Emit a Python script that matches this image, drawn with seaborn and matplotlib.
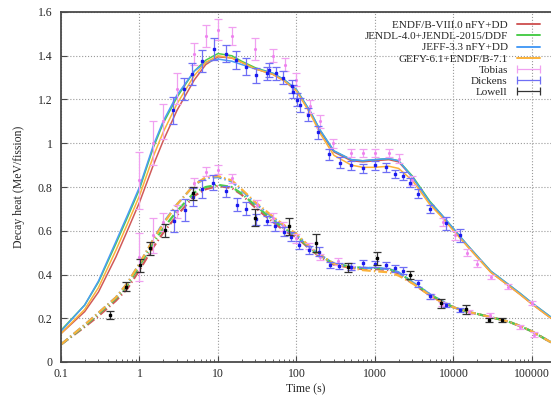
import numpy as np
import pandas as pd
import seaborn as sns
import matplotlib.pyplot as plt
from matplotlib.lines import Line2D
from matplotlib.ticker import FuncFormatter, LogLocator, NullFormatter

# time grid of the calculated curves (s)
t_calc = [0.1, 0.2, 0.3, 0.5, 0.7, 1, 1.5, 2, 3, 5, 7, 10, 15, 20, 30, 50, 70, 100, 150, 200, 300,
          500, 700, 1000, 1500, 2000, 3000, 5000, 7000, 10000, 15000, 20000, 30000, 50000, 70000,
          100000, 175000]

# upper set (solid)
up_endf = [0.13, 0.23, 0.32, 0.48, 0.60, 0.73, 0.90, 1.01, 1.15, 1.29, 1.36, 1.395, 1.39, 1.37, 1.34,
           1.315, 1.285, 1.24, 1.14, 1.055, 0.96, 0.92, 0.915, 0.92, 0.925, 0.915, 0.845, 0.73, 0.67,
           0.605, 0.53, 0.48, 0.41, 0.35, 0.31, 0.265, 0.20]
up_jendl = [0.145, 0.26, 0.365, 0.54, 0.66, 0.79, 0.98, 1.09, 1.21, 1.33, 1.38, 1.41, 1.40, 1.375, 1.345,
            1.32, 1.29, 1.245, 1.145, 1.06, 0.965, 0.925, 0.92, 0.925, 0.93, 0.92, 0.85, 0.735, 0.675,
            0.61, 0.535, 0.485, 0.415, 0.355, 0.315, 0.27, 0.205]
up_jeff = [0.14, 0.26, 0.37, 0.55, 0.67, 0.80, 0.99, 1.10, 1.22, 1.33, 1.37, 1.385, 1.375, 1.36, 1.34,
           1.32, 1.29, 1.245, 1.145, 1.06, 0.965, 0.925, 0.92, 0.925, 0.93, 0.92, 0.845, 0.73, 0.675,
           0.61, 0.535, 0.485, 0.415, 0.355, 0.315, 0.27, 0.205]
up_gefy = [0.13, 0.24, 0.34, 0.51, 0.63, 0.76, 0.94, 1.05, 1.18, 1.31, 1.37, 1.40, 1.39, 1.37, 1.34,
           1.315, 1.285, 1.24, 1.135, 1.045, 0.945, 0.90, 0.89, 0.89, 0.895, 0.885, 0.83, 0.72, 0.665,
           0.60, 0.53, 0.48, 0.41, 0.35, 0.31, 0.265, 0.20]

# lower set (dash-dot)
lo_endf = [0.08, 0.16, 0.21, 0.28, 0.335, 0.42, 0.525, 0.59, 0.67, 0.76, 0.79, 0.805, 0.795, 0.765, 0.705,
           0.64, 0.60, 0.57, 0.515, 0.48, 0.445, 0.43, 0.425, 0.425, 0.42, 0.405, 0.36, 0.305, 0.275,
           0.25, 0.23, 0.22, 0.205, 0.185, 0.165, 0.14, 0.09]
lo_jendl = [0.08, 0.165, 0.22, 0.29, 0.35, 0.44, 0.545, 0.61, 0.69, 0.775, 0.80, 0.81, 0.80, 0.77, 0.715,
            0.65, 0.61, 0.575, 0.52, 0.485, 0.45, 0.435, 0.43, 0.43, 0.425, 0.41, 0.365, 0.31, 0.28,
            0.25, 0.23, 0.22, 0.205, 0.185, 0.165, 0.14, 0.09]
lo_jeff = [0.08, 0.17, 0.225, 0.295, 0.36, 0.45, 0.56, 0.635, 0.72, 0.81, 0.84, 0.845, 0.825, 0.785, 0.725,
           0.66, 0.62, 0.58, 0.525, 0.49, 0.45, 0.435, 0.43, 0.43, 0.425, 0.41, 0.365, 0.31, 0.28,
           0.25, 0.23, 0.22, 0.205, 0.185, 0.165, 0.14, 0.09]
lo_gefy = [0.08, 0.17, 0.225, 0.295, 0.36, 0.45, 0.56, 0.63, 0.72, 0.81, 0.845, 0.85, 0.83, 0.79, 0.73,
           0.665, 0.625, 0.585, 0.525, 0.49, 0.45, 0.43, 0.42, 0.415, 0.41, 0.395, 0.36, 0.305, 0.275,
           0.25, 0.23, 0.22, 0.205, 0.185, 0.165, 0.14, 0.09]

# Tobias
tob_t = [1.0, 1.5, 2.0, 3.0, 5.0, 7.0, 10, 15, 30, 50, 72, 100, 150, 200, 290, 500, 700, 1000, 1500,
         2000, 3000, 7400, 10500, 15000, 20000, 30000, 50000, 100000,
         1.0, 1.5, 2.0, 3.0, 5.0, 7.0, 10, 15, 31, 50, 68, 100, 145, 200, 340, 500, 5200, 7200, 16000,
         29000, 70000, 105000]
tob_y = [0.83, 1.00, 1.10, 1.25, 1.41, 1.49, 1.52, 1.49, 1.43, 1.40, 1.36, 1.29, 1.17, 1.10, 1.00, 0.955,
         0.955, 0.955, 0.955, 0.93, 0.83, 0.64, 0.58, 0.50, 0.45, 0.39, 0.345, 0.27,
         0.48, 0.58, 0.64, 0.69, 0.82, 0.87, 0.88, 0.84, 0.72, 0.66, 0.62, 0.565, 0.53, 0.48, 0.46, 0.43,
         0.30, 0.265, 0.23, 0.215, 0.16, 0.125]
tob_e = [0.13, 0.10, 0.08, 0.07, 0.05, 0.05, 0.05, 0.04, 0.05, 0.03, 0.03, 0.03, 0.03, 0.03, 0.02, 0.02,
         0.02, 0.02, 0.02, 0.02, 0.02, 0.02, 0.02, 0.015, 0.015, 0.01, 0.01, 0.01,
         0.11, 0.08, 0.04, 0.03, 0.02, 0.02, 0.02, 0.02, 0.02, 0.02, 0.02, 0.02, 0.015, 0.015, 0.015, 0.01,
         0.01, 0.01, 0.01, 0.01, 0.01, 0.01]

# Dickens
dic_t = [2.7, 3.7, 4.7, 6.25, 8.8, 12.8, 17, 22.5, 30.5, 42, 45, 55, 68, 87, 90, 103, 110, 142, 190, 260,
         360, 500, 700, 1010, 1400, 1820, 2300, 2780, 3550, 5000, 8100, 12000,
         2.75, 3.8, 4.8, 6.3, 8.7, 12.8, 17.6, 22.5, 30.5, 42, 53, 69, 84, 109, 145, 192, 265, 350, 500,
         700, 1010, 1400, 1820, 2300, 3550, 5000, 8100, 12000]
dic_y = [1.15, 1.25, 1.315, 1.375, 1.43, 1.41, 1.38, 1.35, 1.31, 1.32, 1.335, 1.32, 1.30, 1.26, 1.235, 1.20,
         1.175, 1.13, 1.05, 0.95, 0.91, 0.90, 0.885, 0.90, 0.89, 0.86, 0.85, 0.82, 0.77, 0.70, 0.635, 0.58,
         0.645, 0.695, 0.755, 0.79, 0.82, 0.78, 0.72, 0.70, 0.652, 0.646, 0.62, 0.596, 0.573, 0.535, 0.512,
         0.504, 0.443, 0.439, 0.436, 0.451, 0.448, 0.443, 0.428, 0.418, 0.36, 0.30, 0.26, 0.238]
dic_e = [0.06, 0.05, 0.05, 0.05, 0.05, 0.04, 0.04, 0.04, 0.035, 0.03, 0.03, 0.03, 0.03, 0.03, 0.03, 0.03,
         0.03, 0.03, 0.03, 0.025, 0.025, 0.02, 0.02, 0.02, 0.02, 0.02, 0.02, 0.02, 0.02, 0.02, 0.03, 0.03,
         0.05, 0.05, 0.04, 0.04, 0.035, 0.025, 0.03, 0.03, 0.025, 0.02, 0.02, 0.02, 0.02, 0.02, 0.02,
         0.02, 0.015, 0.015, 0.015, 0.015, 0.015, 0.015, 0.015, 0.015, 0.015, 0.01, 0.01, 0.01]

# Lowell
low_t = [0.42, 0.67, 1.03, 1.36, 2.1, 4.8, 30, 80, 180, 460, 1060, 2800, 7000, 14500, 28000, 41000]
low_y = [0.215, 0.344, 0.443, 0.52, 0.603, 0.771, 0.66, 0.62, 0.543, 0.433, 0.474, 0.398, 0.268, 0.241,
         0.192, 0.192]
low_e = [0.02, 0.02, 0.03, 0.03, 0.03, 0.03, 0.04, 0.04, 0.04, 0.02, 0.03, 0.02, 0.02, 0.02, 0.01, 0.01]

libs = ['ENDF/B-VIII.0 nFY+DD', 'JENDL-4.0+JENDL-2015/DDF', 'JEFF-3.3 nFY+DD', 'GEFY-6.1+ENDF/B-7.1']
colors = ['#d05a5a', '#4ccc4c', '#4a9cf5', '#fbb23a']
upper = [up_endf, up_jendl, up_jeff, up_gefy]
lower = [lo_endf, lo_jendl, lo_jeff, lo_gefy]

sns.set_style("whitegrid", {"grid.linestyle": ":", "grid.color": "#9a9a9a",
                            "axes.edgecolor": "#4a4a4a"})
plt.rcParams['font.family'] = ['Liberation Serif', 'DejaVu Serif']
plt.rcParams['font.size'] = 8

fig = plt.figure(figsize=(5.51, 3.96), dpi=100)
ax = fig.add_axes([61 / 551, 1 - 362 / 396, 1 - 61 / 551, 350 / 396])

handles = []
for name, c, yu, yl in zip(libs, colors, upper, lower):
    sns.lineplot(x=t_calc, y=yu, color=c, lw=1.1, ax=ax, sort=False)
    sns.lineplot(x=t_calc, y=yl, color=c, lw=1.6, ax=ax, sort=False,
                 linestyle=(0, (4, 1.4, 0.6, 1.4)))
    handles.append(Line2D([], [], color=c, lw=1.4, label=name))

exp_sets = [('Tobias', tob_t, tob_y, tob_e, '#ee82ee', '#f0a0f0', '.', 2.5),
            ('Dickens', dic_t, dic_y, dic_e, '#1a1aee', '#6f6ff5', 's', 2),
            ('Lowell', low_t, low_y, low_e, 'black', '#333333', 's', 1.8)]
for z, (name, tt, yy, ee, mc, ec, mk, ms) in enumerate(exp_sets):
    ax.errorbar(tt, yy, yerr=ee, fmt=mk, ms=ms, color=mc, ecolor=ec, elinewidth=0.9,
                capsize=3, capthick=0.9, zorder=3 + z)
    handles.append(Line2D([], [], color=ec, lw=0.9, marker='|', ms=6, mew=0.9, label=name))

ax.set_xscale('log')
ax.set_xlim(0.1, 175000)
ax.set_ylim(0, 1.6)
ax.set_yticks(np.arange(0, 1.61, 0.2))
ax.yaxis.set_major_formatter(FuncFormatter(lambda v, _: f'{v:g}'))
ax.xaxis.set_major_locator(LogLocator(base=10, numticks=10))
ax.xaxis.set_major_formatter(FuncFormatter(lambda v, _: f'{v:g}' if v < 1 else f'{v:.0f}'))
ax.xaxis.set_minor_locator(LogLocator(base=10, subs=np.arange(2, 10), numticks=20))
ax.xaxis.set_minor_formatter(NullFormatter())
ax.tick_params(axis='both', which='both', direction='in', color='#4a4a4a', labelsize=8.5)
ax.tick_params(axis='both', which='major', length=4)
ax.tick_params(axis='x', which='major', pad=4)
ax.tick_params(axis='y', which='major', pad=6)
ax.tick_params(axis='x', which='minor', length=2.5, bottom=True)
ax.tick_params(axis='y', left=True)
ax.tick_params(axis='x', bottom=True)
ax.spines['right'].set_visible(False)
for s in ['left', 'bottom', 'top']:
    ax.spines[s].set_linewidth(1.3)
ax.grid(True, which='major', lw=0.8)

ax.set_xlabel('Time (s)', fontsize=8.5, labelpad=3)
ax.set_ylabel('Decay heat (MeV/fission)', fontsize=8.5, labelpad=9)

ax.legend(handles=handles, loc='upper right', bbox_to_anchor=(0.998, 0.995), frameon=False,
          markerfirst=False, numpoints=2, fontsize=8, handlelength=2.7, labelspacing=0.12,
          handletextpad=0.5, borderaxespad=0.2)

fig.savefig('out.png', dpi=100)
